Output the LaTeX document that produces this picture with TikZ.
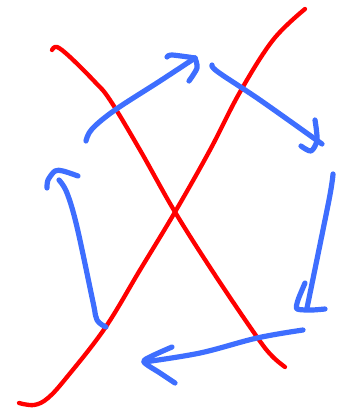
\documentclass[tikz,border=0pt]{standalone}
\usepackage{tikz}
\usepackage{xcolor}
\definecolor{penblue}{RGB}{62,110,255}
\definecolor{penred}{RGB}{255,0,0}

\begin{document}
\begin{tikzpicture}[x=1pt,y=-1pt,
    redpen/.style={penred,line width=4.3pt,line cap=round,line join=round},
    bluepen/.style={penblue,line width=5.2pt,line cap=round,line join=round}]
    \useasboundingbox (0,0) rectangle (350,409);

    % Red strokes
    \draw[redpen] plot[smooth,tension=0.6] coordinates {(52,50) (57,47) (70,57) (95,82) (110,100) (140,150) (175,212) (215,275) (257,337) (272,356) (285,367)};
    \draw[redpen] plot[smooth,tension=0.6] coordinates {(19,403) (34,405) (48,398) (67,377) (105,328) (140,270) (175,212) (210,150) (240,92) (273,40) (305,9)};

    % Top left arrow
    \draw[bluepen] plot[smooth,tension=0.6] coordinates {(86,141) (92,129) (115,110) (160,81) (195,58)};
    \draw[bluepen] plot[smooth,tension=0.5] coordinates {(167,57) (172,55) (195,58)};
    \draw[bluepen] plot[smooth,tension=0.5] coordinates {(195,58) (197,68) (189,81)};

    % Top right arrow
    \draw[bluepen] plot[smooth,tension=0.6] coordinates {(212,65) (218,72) (260,100) (322,144)};
    \draw[bluepen] plot[smooth,tension=0.5] coordinates {(315,120) (317,140) (311,151) (301,146)};

    % Right arrow
    \draw[bluepen] plot[smooth,tension=0.5] coordinates {(333,174) (329,200) (307,308)};
    \draw[bluepen] plot[smooth,tension=0.4] coordinates {(305,283) (298,300) (297,309) (312,310) (325,309)};

    % Bottom arrow
    \draw[bluepen] plot[smooth,tension=0.6] coordinates {(303,330) (257,338) (200,353) (144,362)};
    \draw[bluepen] plot[smooth,tension=0.5] coordinates {(172,347) (152,356) (144,362) (160,373) (175,383)};

    % Left arrow
    \draw[bluepen] plot[smooth,tension=0.6] coordinates {(106,327) (97,320) (93,302) (77,227) (67,193) (59,180)};
    \draw[bluepen] plot[smooth,tension=0.5] coordinates {(47,188) (48,180) (55,171) (63,171) (78,176)};
\end{tikzpicture}
\end{document}
